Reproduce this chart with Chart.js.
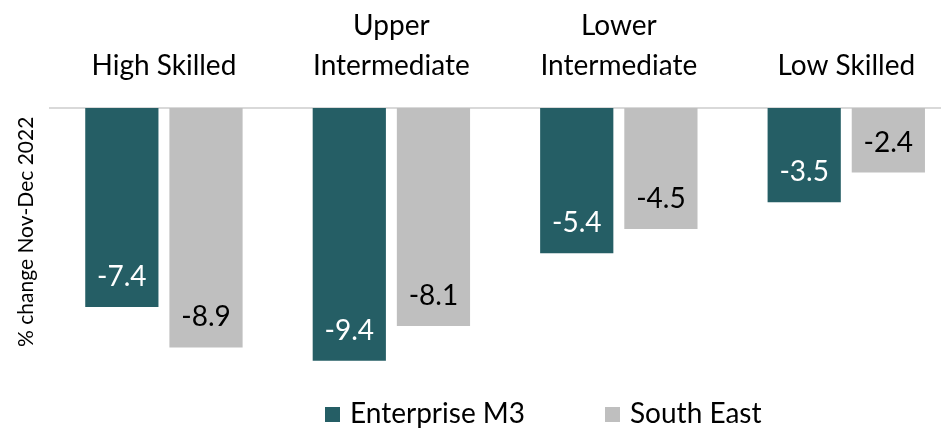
<!DOCTYPE html>
<html>
<head>
<meta charset="utf-8">
<script src="https://cdn.jsdelivr.net/npm/chart.js@4"></script>
<style>
  html, body { margin: 0; padding: 0; background: #fff; overflow: hidden; }
  #wrap { width: 960px; height: 429px; position: relative; }
</style>
</head>
<body>
<div id="wrap"><canvas id="skillsChart"></canvas></div>
<script>
const categories = ['High Skilled', ['Upper', 'Intermediate'], ['Lower', 'Intermediate'], 'Low Skilled'];
const enterpriseM3 = [-7.4, -9.4, -5.4, -3.5];
const southEast = [-8.9, -8.1, -4.5, -2.4];
const seriesNames = ['Enterprise M3', 'South East'];
const yTitle = '% change Nov-Dec 2022';

const FONT = 'Lato, "Open Sans", sans-serif';

// value labels sitting inside the bar, near its end
const barLabels = {
  id: 'barLabels',
  afterDatasetsDraw(chart) {
    const ctx = chart.ctx;
    ctx.save();
    ctx.font = '28px ' + FONT;
    ctx.textAlign = 'center';
    ctx.textBaseline = 'alphabetic';
    chart.data.datasets.forEach((ds, i) => {
      const meta = chart.getDatasetMeta(i);
      meta.data.forEach((bar, j) => {
        ctx.fillStyle = ds.labelColor;
        ctx.fillText(ds.data[j].toFixed(1), bar.x, bar.y - 21);
      });
    });
    ctx.restore();
  }
};

// legend drawn by hand so it can sit where the original one is
const bottomLegend = {
  id: 'bottomLegend',
  afterDraw(chart) {
    const ctx = chart.ctx;
    const starts = [325, 605];
    ctx.save();
    ctx.font = '28px ' + FONT;
    ctx.textBaseline = 'alphabetic';
    ctx.textAlign = 'left';
    chart.data.datasets.forEach((ds, i) => {
      const x = starts[i];
      ctx.fillStyle = ds.backgroundColor;
      ctx.fillRect(x, 407, 15, 15);
      ctx.fillStyle = '#000';
      ctx.fillText(ds.label, x + 25, 423);
    });
    ctx.restore();
  }
};

new Chart(document.getElementById('skillsChart'), {
  type: 'bar',
  data: {
    labels: categories,
    datasets: [
      {
        label: seriesNames[0],
        data: enterpriseM3,
        backgroundColor: '#255E65',
        labelColor: '#fff',
        categoryPercentage: 0.74,
        barPercentage: 0.87
      },
      {
        label: seriesNames[1],
        data: southEast,
        backgroundColor: '#BFBFBF',
        labelColor: '#000',
        categoryPercentage: 0.74,
        barPercentage: 0.87
      }
    ]
  },
  options: {
    responsive: true,
    maintainAspectRatio: false,
    animation: false,
    layout: { padding: { top: -16, left: 14, right: 0, bottom: 52 } },
    plugins: {
      legend: { display: false },
      tooltip: { enabled: false }
    },
    scales: {
      x: {
        position: 'top',
        grid: { display: false, drawTicks: false },
        border: { display: true, color: '#D9D9D9', width: 2 },
        ticks: {
          color: '#000',
          padding: 22,
          maxRotation: 0,
          autoSkip: false,
          font: { family: FONT, size: 28, lineHeight: 1.43 }
        }
      },
      y: {
        min: -10,
        max: 0,
        grid: { display: false, drawTicks: false },
        border: { display: false },
        ticks: { display: false },
        title: {
          display: true,
          text: '    ' + yTitle, // leading spaces nudge it up a little
          color: '#000',
          padding: { top: 0, bottom: 11 },
          font: { family: FONT, size: 21 }
        }
      }
    }
  },
  plugins: [barLabels, bottomLegend]
});
</script>
</body>
</html>
